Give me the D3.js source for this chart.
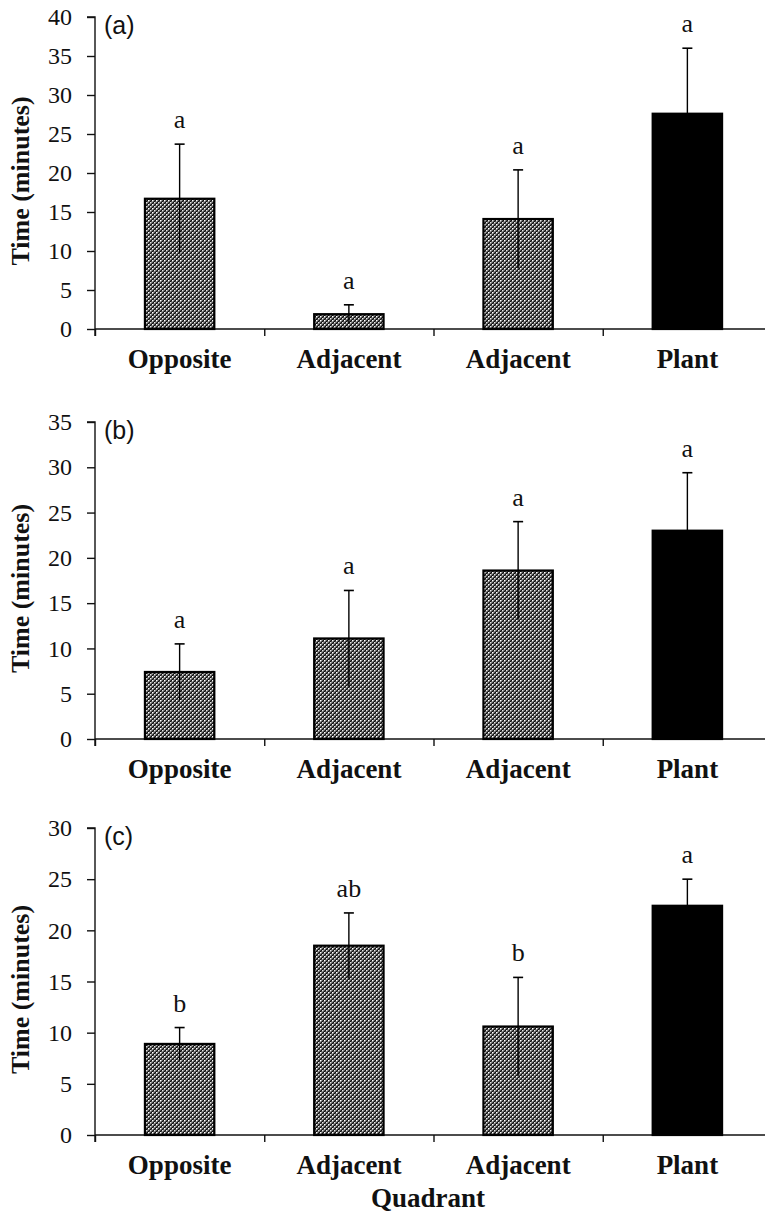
<!DOCTYPE html>
<html>
<head>
<meta charset="utf-8">
<script src="https://cdn.jsdelivr.net/npm/d3@7"></script>
<style>
  body { margin: 0; background: #fff; }
  svg { display: block; }
  .tick text { font-family: "Liberation Serif", "Times New Roman", serif; }
</style>
</head>
<body>
<div id="chart"></div>
<script>
// categories shared by all three panels
const categories = ['Opposite', 'Adjacent', 'Adjacent', 'Plant'];

// panel (a)
const meansA = [16.7, 1.9, 14.1, 27.6];
const errA = [7.0, 1.2, 6.3, 8.4];
const lettersA = ['a', 'a', 'a', 'a'];
const ticksA = [0, 5, 10, 15, 20, 25, 30, 35, 40];

// panel (b)
const meansB = [7.4, 11.1, 18.6, 23.0];
const errB = [3.1, 5.3, 5.4, 6.4];
const lettersB = ['a', 'a', 'a', 'a'];
const ticksB = [0, 5, 10, 15, 20, 25, 30, 35];

// panel (c)
const meansC = [8.9, 18.5, 10.6, 22.4];
const errC = [1.6, 3.2, 4.8, 2.6];
const lettersC = ['b', 'ab', 'b', 'a'];
const ticksC = [0, 5, 10, 15, 20, 25, 30];

const W = 765, H = 1217;
const xLeft = 95, xRight = 772;

const svg = d3.select('#chart').append('svg')
    .attr('width', W)
    .attr('height', H);

svg.append('rect').attr('width', W).attr('height', H).attr('fill', '#fff');

// woven hatch fill for the quadrant bars
const defs = svg.append('defs');
const pat = defs.append('pattern')
    .attr('id', 'hatch')
    .attr('patternUnits', 'userSpaceOnUse')
    .attr('width', 4)
    .attr('height', 4);
pat.append('rect').attr('width', 4).attr('height', 4).attr('fill', '#9a9a9a');
pat.append('path')
    .attr('d', 'M-1,1 L1,-1 M0,4 L4,0 M3,5 L5,3')
    .attr('stroke', '#0d0d0d')
    .attr('stroke-width', 1.5);
pat.append('rect').attr('x', 0).attr('y', 0).attr('width', 1.2).attr('height', 1.2).attr('fill', '#fff');
pat.append('rect').attr('x', 2).attr('y', 2).attr('width', 1).attr('height', 1).attr('fill', '#e6e6e6');

const x = d3.scaleBand()
    .domain(d3.range(categories.length))
    .range([xLeft, xRight])
    .paddingInner(0.59)
    .paddingOuter(0.295);

// boundaries between categories (tick marks on the x axis)
const xEdge = d3.scaleLinear().domain([0, categories.length]).range([xLeft, xRight]);

function panel(label, means, errs, letters, ticks, yBottom, yTop) {
    const g = svg.append('g');
    const y = d3.scaleLinear()
        .domain([0, d3.max(ticks)])
        .range([yBottom, yTop]);

    // y axis
    const yAxis = g.append('g')
        .attr('transform', `translate(${xLeft},0)`)
        .call(d3.axisLeft(y).tickValues(ticks).tickSize(8).tickPadding(15).tickFormat(d3.format('d')));
    yAxis.select('.domain').attr('d', `M-8,${yTop}H0V${yBottom + 7}`).attr('stroke', '#111').attr('stroke-width', 1.4);
    yAxis.selectAll('.tick line').attr('stroke', '#111').attr('stroke-width', 1.4);
    yAxis.selectAll('.tick text')
        .attr('font-size', 24)
        .attr('fill', '#111');

    // x axis line + boundary ticks
    const xAxis = g.append('g')
        .attr('transform', `translate(0,${yBottom})`)
        .call(d3.axisBottom(xEdge).tickValues(d3.range(categories.length)).tickSize(7).tickFormat(''));
    xAxis.select('.domain').attr('d', `M${xLeft},0H${xRight}`).attr('stroke', '#111').attr('stroke-width', 1.4);
    xAxis.selectAll('.tick line').attr('stroke', '#111').attr('stroke-width', 1.4);

    // category labels
    const catAxis = g.append('g')
        .attr('transform', `translate(0,${yBottom})`)
        .call(d3.axisBottom(x).tickSize(0).tickPadding(20).tickFormat(i => categories[i]));
    catAxis.select('.domain').remove();
    catAxis.selectAll('.tick text')
        .attr('font-size', 27)
        .attr('font-weight', 'bold')
        .attr('fill', '#111');

    // bars
    g.selectAll('.bar')
        .data(means)
        .enter().append('rect')
        .attr('class', 'bar')
        .attr('x', (d, i) => x(i))
        .attr('width', x.bandwidth())
        .attr('y', d => y(d))
        .attr('height', d => yBottom - y(d))
        .attr('fill', (d, i) => i === categories.length - 1 ? '#000' : 'url(#hatch)')
        .attr('stroke', '#000')
        .attr('stroke-width', 2.2);

    // error bars (upper cap only)
    const cx = i => x(i) + x.bandwidth() / 2;
    const eb = g.selectAll('.err')
        .data(means)
        .enter().append('g')
        .attr('class', 'err');
    eb.append('line')
        .attr('x1', (d, i) => cx(i)).attr('x2', (d, i) => cx(i))
        .attr('y1', (d, i) => y(d - errs[i]))
        .attr('y2', (d, i) => y(d + errs[i]))
        .attr('stroke', '#000').attr('stroke-width', 1.4);
    eb.append('line')
        .attr('x1', (d, i) => cx(i) - 5).attr('x2', (d, i) => cx(i) + 5)
        .attr('y1', (d, i) => y(d + errs[i]))
        .attr('y2', (d, i) => y(d + errs[i]))
        .attr('stroke', '#000').attr('stroke-width', 1.6);

    // significance letters
    g.selectAll('.sig')
        .data(means)
        .enter().append('text')
        .attr('class', 'sig')
        .attr('x', (d, i) => cx(i))
        .attr('y', (d, i) => y(d + errs[i]) - 16)
        .attr('text-anchor', 'middle')
        .attr('font-family', '"Liberation Serif", "Times New Roman", serif')
        .attr('font-size', 26)
        .attr('fill', '#111')
        .text((d, i) => letters[i]);

    // panel label
    g.append('text')
        .attr('x', 104)
        .attr('y', yTop + 17)
        .attr('font-family', '"Liberation Sans", Arial, sans-serif')
        .attr('font-size', 25)
        .attr('fill', '#111')
        .text(label);

    // y axis title
    const midY = (yTop + yBottom) / 2 + 8;
    g.append('text')
        .attr('transform', `translate(29,${midY}) rotate(-90)`)
        .attr('text-anchor', 'middle')
        .attr('font-family', '"Liberation Serif", "Times New Roman", serif')
        .attr('font-size', 26)
        .attr('font-weight', 'bold')
        .attr('fill', '#111')
        .text('Time (minutes)');
}

panel('(a)', meansA, errA, lettersA, ticksA, 329, 17);
panel('(b)', meansB, errB, lettersB, ticksB, 739, 422);
panel('(c)', meansC, errC, lettersC, ticksC, 1135, 828);

svg.append('text')
    .attr('x', 428)
    .attr('y', 1207)
    .attr('text-anchor', 'middle')
    .attr('font-family', '"Liberation Serif", "Times New Roman", serif')
    .attr('font-size', 27)
    .attr('font-weight', 'bold')
    .attr('fill', '#111')
    .text('Quadrant');
</script>
</body>
</html>
